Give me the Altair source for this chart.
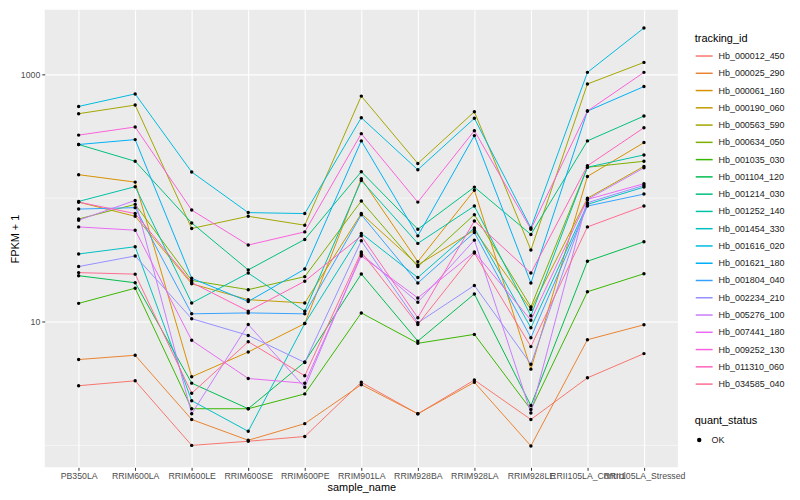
import altair as alt
import pandas as pd

samples = ["PB350LA", "RRIM600LA", "RRIM600LE", "RRIM600SE", "RRIM600PE", "RRIM901LA",
           "RRIM928BA", "RRIM928LA", "RRIM928LE", "RRII105LA_Control", "RRII105LA_Stressed"]

ids = ["Hb_000012_450", "Hb_000025_290", "Hb_000061_160", "Hb_000190_060", "Hb_000563_590",
       "Hb_000634_050", "Hb_001035_030", "Hb_001104_120", "Hb_001214_030", "Hb_001252_140",
       "Hb_001454_330", "Hb_001616_020", "Hb_001621_180", "Hb_001804_040", "Hb_002234_210",
       "Hb_005276_100", "Hb_007441_180", "Hb_009252_130", "Hb_011310_060", "Hb_034585_040"]

colors = ["#F8766D", "#EA8331", "#D89000", "#C09B00", "#A3A500", "#7CAE00", "#39B600", "#00BB4E",
          "#00BF7D", "#00C1A3", "#00BFC4", "#00BAE0", "#00B0F6", "#35A2FF", "#9590FF", "#C77CFF",
          "#E76BF3", "#FA62DB", "#FF62BC", "#FF6C91"]

# FPKM + 1 per sample, in the order of `samples`
hb_000012_450 = [3.04, 3.33, 1.00, 1.08, 1.18, 3.24, 1.80, 3.38, 1.62, 3.52, 5.53]
hb_000025_290 = [4.95, 5.36, 1.62, 1.10, 1.50, 3.10, 1.80, 3.24, 0.99, 7.16, 9.46]
hb_000061_160 = [155, 135, 3.59, 5.70, 9.68, 144, 30.7, 116, 4.14, 150, 282]
hb_000190_060 = [93.0, 71.4, 20.3, 15.1, 14.2, 75.1, 28.8, 55.1, 12.6, 100, 181]
hb_000563_590 = [483, 567, 56.9, 71.4, 60.5, 670, 191, 501, 38.1, 840, 1256]
hb_000634_050 = [67.9, 89.2, 21.6, 18.2, 23.2, 94.8, 28.0, 73.6, 13.2, 178, 199]
hb_001035_030 = [14.1, 18.7, 1.98, 1.98, 2.61, 11.8, 6.70, 7.91, 1.95, 17.5, 24.5]
hb_001104_120 = [23.6, 20.7, 3.19, 1.98, 4.73, 24.4, 6.98, 16.8, 2.10, 30.9, 44.4]
hb_001214_030 = [272, 199, 63.1, 26.3, 46.4, 164, 56.1, 123, 50.9, 291, 462]
hb_001252_140 = [94.2, 124, 14.2, 24.8, 12.2, 139, 43.1, 86.4, 11.2, 178, 224]
hb_001454_330 = [35.4, 40.5, 2.30, 1.30, 9.68, 51.9, 22.8, 57.5, 8.95, 89.2, 123]
hb_001616_020 = [553, 698, 163, 76.5, 75.1, 448, 170, 443, 57.5, 1043, 2385]
hb_001621_180 = [272, 298, 22.5, 14.6, 26.7, 291, 49.6, 321, 20.6, 507, 801]
hb_001804_040 = [81.7, 83.9, 11.6, 11.8, 11.6, 73.6, 20.6, 52.8, 7.44, 86.4, 108]
hb_002234_210 = [28.0, 34.1, 10.6, 7.76, 4.69, 45.2, 9.82, 19.7, 4.54, 92.0, 127]
hb_005276_100 = [66.4, 96.0, 1.80, 9.51, 2.95, 35.4, 14.4, 45.8, 1.83, 97.8, 176]
hb_007441_180 = [58.6, 55.1, 7.08, 3.48, 3.18, 34.1, 15.6, 36.7, 10.3, 97.8, 131]
hb_009252_130 = [324, 377, 80.2, 41.8, 53.4, 333, 93.0, 352, 56.1, 507, 1043]
hb_011310_060 = [93.0, 75.1, 20.8, 12.2, 21.3, 49.6, 10.8, 65.5, 24.8, 183, 372]
hb_034585_040 = [25.0, 24.3, 2.64, 6.90, 3.66, 36.7, 9.51, 36.0, 6.30, 58.6, 86.4]

series = [hb_000012_450, hb_000025_290, hb_000061_160, hb_000190_060, hb_000563_590,
          hb_000634_050, hb_001035_030, hb_001104_120, hb_001214_030, hb_001252_140,
          hb_001454_330, hb_001616_020, hb_001621_180, hb_001804_040, hb_002234_210,
          hb_005276_100, hb_007441_180, hb_009252_130, hb_011310_060, hb_034585_040]

rows = []
for tid, vals in zip(ids, series):
    for s, v in zip(samples, vals):
        rows.append({"tracking_id": tid, "sample_name": s, "fpkm": v, "quant_status": "OK"})
df = pd.DataFrame(rows)

minor_breaks = [1, 100]
y_domain = [0.664, 3342]

FONT = "Liberation Sans"

xscale = alt.Scale(type="point", padding=0.6)
xenc = alt.X("sample_name:N", sort=samples, scale=xscale,
             axis=alt.Axis(title="sample_name", labelAngle=0, labelFontSize=8.8,
                           labelColor="#4D4D4D", tickColor="#333333", tickSize=3,
                           domain=False, grid=True, gridColor="white", gridWidth=1.1,
                           labelPadding=1.5, labelOverlap=False, labelBound=False,
                           titleFontSize=11, titleFontWeight="normal", titleColor="black",
                           titlePadding=1))
yscale = alt.Scale(type="log", domain=y_domain, nice=False, zero=False)
yaxis = alt.Axis(title="FPKM + 1", values=[10, 1000], format="d",
                 labelFontSize=8.8, labelColor="#4D4D4D", tickColor="#333333",
                 tickSize=3, domain=False, grid=True, gridColor="white",
                 gridWidth=1.1, labelPadding=2, titleFontSize=11,
                 titleFontWeight="normal", titleColor="black", titlePadding=0)
yenc = alt.Y("fpkm:Q", scale=yscale, axis=yaxis, title="FPKM + 1")

minor = alt.Chart(pd.DataFrame({"fpkm": minor_breaks})).mark_rule(
    color="white", strokeWidth=0.55
).encode(y=yenc)

lines = alt.Chart(df).mark_line(strokeWidth=1).encode(
    x=xenc, y=yenc,
    color=alt.Color("tracking_id:N", scale=alt.Scale(domain=ids, range=colors),
                    legend=alt.Legend(title="tracking_id", orient="none", legendX=655,
                                      legendY=23, symbolType="stroke", symbolSize=290,
                                      symbolStrokeWidth=1.5, rowPadding=2.4,
                                      labelFontSize=9, labelColor="#1A1A1A",
                                      titleFontSize=11, titleFontWeight="normal",
                                      titleColor="black", titlePadding=3, labelOffset=5)),
    detail="tracking_id:N",
)

points = alt.Chart(df).mark_point(filled=True, color="black", size=12, opacity=1).encode(
    x=xenc, y=yenc,
    shape=alt.Shape("quant_status:N", scale=alt.Scale(domain=["OK"], range=["circle"]),
                    legend=alt.Legend(title="quant_status", orient="none", legendX=655,
                                      legendY=408, symbolSize=20, symbolFillColor="black",
                                      symbolStrokeColor="black", labelFontSize=9,
                                      labelColor="#1A1A1A", titleFontSize=11,
                                      titleFontWeight="normal", titleColor="black",
                                      titlePadding=10, labelOffset=8)),
)

chart = alt.layer(minor, lines, points).properties(
    width=638, height=461,
    padding={"left": 37, "top": 0, "right": 115, "bottom": 31},
    autosize=alt.AutoSizeParams(type="none"),
).configure(font=FONT).configure_view(fill="#EBEBEB", stroke=None)

chart.save("out.html", embed_options={"renderer": "svg", "actions": False})
